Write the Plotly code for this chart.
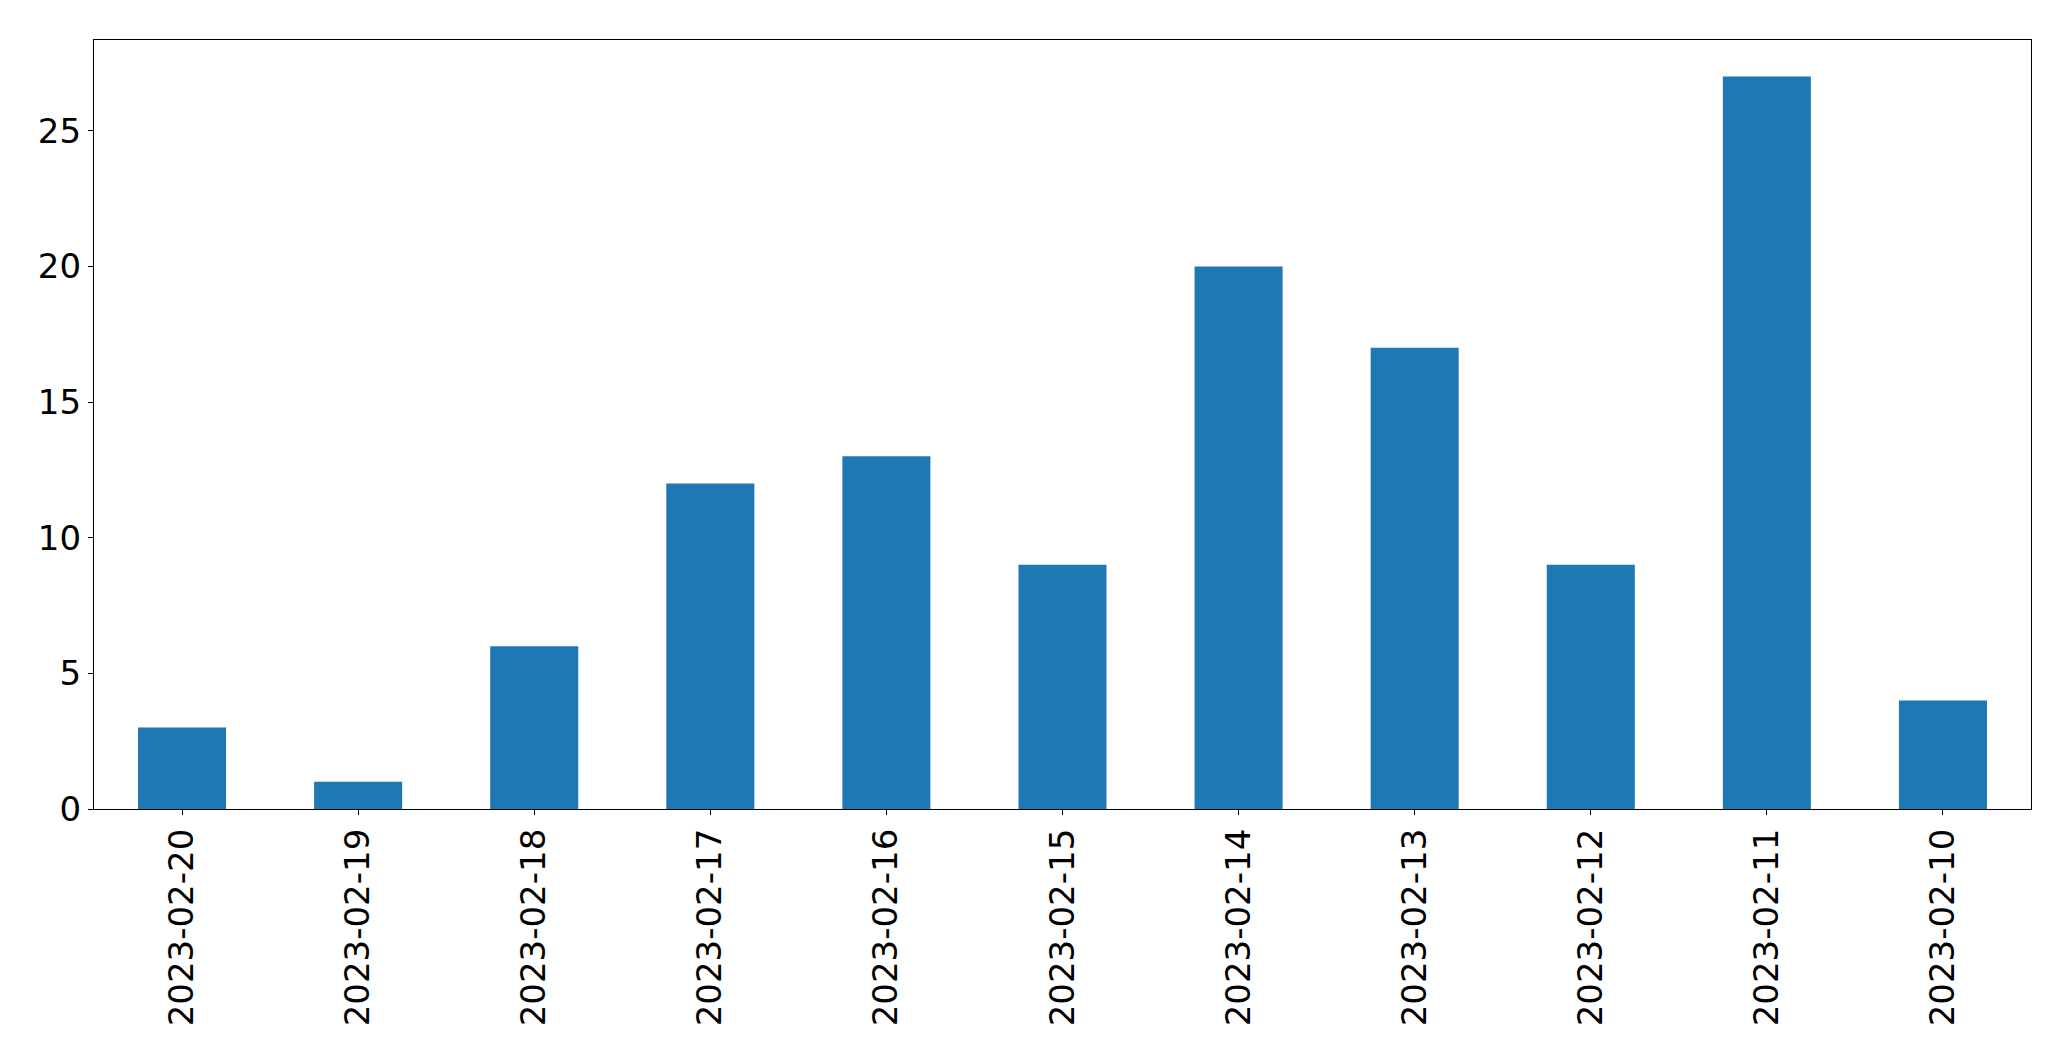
import plotly.graph_objects as go

dates = ["2023-02-20", "2023-02-19", "2023-02-18", "2023-02-17", "2023-02-16",
         "2023-02-15", "2023-02-14", "2023-02-13", "2023-02-12", "2023-02-11",
         "2023-02-10"]
counts = [3, 1, 6, 12, 13, 9, 20, 17, 9, 27, 4]
y_ticks = [0, 5, 10, 15, 20, 25]

fig = go.Figure(go.Bar(x=dates, y=counts, marker=dict(color="#1f77b4", line=dict(width=0)),
                       width=0.5))

font = dict(family="DejaVu Sans", size=34, color="black")
# the page body adds an 8px offset, so margins are compensated
fig.update_layout(
    width=2071, height=1061, autosize=False,
    margin=dict(l=86, r=48, t=32, b=260),
    plot_bgcolor="white", paper_bgcolor="white",
    showlegend=False, font=font,
)
fig.update_xaxes(
    type="category", range=[-0.5, len(dates) - 0.5], automargin=False,
    showline=True, linecolor="black", linewidth=1.3, mirror=True,
    ticks="outside", ticklen=5, tickwidth=1.3, tickcolor="black",
    tickangle=-90, tickfont=font, showgrid=False, zeroline=False,
)
fig.update_yaxes(
    range=[0, max(counts) * 1.05], tickvals=y_ticks, automargin=False,
    showline=True, linecolor="black", linewidth=1.3, mirror=True,
    ticks="outside", ticklen=5, tickwidth=1.3, tickcolor="black",
    tickfont=font, showgrid=False, zeroline=False,
)
fig.write_html("out.html")
